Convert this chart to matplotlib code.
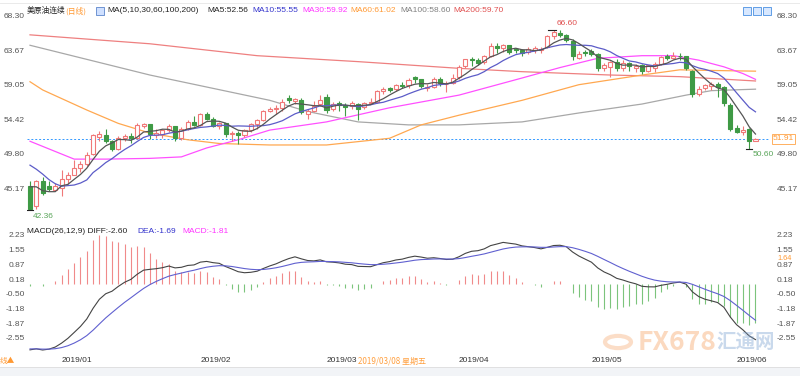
import numpy as np
import pandas as pd
import matplotlib
matplotlib.use("Agg")
import matplotlib.pyplot as plt
import matplotlib.transforms as mtr
from matplotlib.patches import Rectangle, Circle

plt.rcParams['font.family'] = ['Noto Sans CJK SC', 'DejaVu Sans']

# ---------------- data ----------------
holidays = ['2018-12-25', '2019-01-01', '2019-04-19']
dates = [d for d in pd.bdate_range('2018-12-24', '2019-06-06') if d.strftime('%Y-%m-%d') not in holidays]

opens = [45.6, 42.9, 46.2, 45.6, 45.1, 45.3, 46.5, 47.1, 48.0, 48.6,
         49.9, 52.2, 52.5, 51.6, 50.6, 52.1, 52.3, 52.0, 53.7, 53.9,
         52.4, 52.6, 53.1, 53.7, 52.0, 53.3, 54.2, 53.8, 55.2, 54.6,
         53.7, 54.0, 52.6, 52.7, 52.4, 53.1, 53.9, 54.4, 55.6, 55.9,
         56.1, 57.4, 57.0, 57.1, 55.3, 55.7, 56.6, 57.5, 55.9, 56.8,
         56.5, 56.3, 56.6, 56.2, 56.8, 56.9, 58.3, 58.7, 58.6, 59.1,
         59.1, 60.2, 59.9, 58.7, 58.9, 60.0, 59.3, 59.4, 60.2, 61.7,
         62.6, 62.5, 62.2, 63.1, 64.4, 64.1, 64.5, 64.0, 63.8, 63.6,
         63.8, 63.9, 64.3, 65.8, 66.2, 65.9, 65.1, 62.8, 63.6, 63.7,
         63.3, 61.5, 61.6, 62.3, 61.4, 62.1, 61.5, 61.8, 61.1, 61.5,
         62.0, 63.0, 62.8, 63.1, 63.0, 61.1, 58.0, 58.7, 59.0, 59.3,
         58.9, 56.5, 53.4, 52.9, 53.2, 51.7]
highs = [46.2, 46.4, 46.8, 46.2, 46.0, 47.8, 47.5, 49.1, 49.0, 50.2,
         52.6, 53.0, 53.2, 51.8, 52.3, 52.6, 52.7, 54.0, 54.1, 53.9,
         53.3, 53.3, 53.9, 53.7, 53.5, 54.4, 55.0, 55.4, 55.5, 54.9,
         54.2, 54.1, 53.0, 53.0, 53.3, 54.0, 54.6, 55.8, 56.2, 56.5,
         57.3, 57.8, 57.4, 57.4, 55.9, 57.0, 57.8, 57.9, 56.9, 57.0,
         56.7, 57.0, 56.7, 56.9, 57.4, 58.5, 58.9, 58.9, 59.3, 59.6,
         60.1, 60.4, 60.0, 59.3, 60.2, 60.2, 59.7, 60.6, 61.8, 62.7,
         62.9, 62.8, 63.2, 64.8, 64.8, 64.7, 64.6, 64.1, 64.0, 64.2,
         64.4, 64.2, 65.9, 66.60, 66.5, 66.0, 65.3, 63.7, 63.9, 64.0,
         63.5, 62.1, 62.4, 62.6, 62.5, 62.3, 62.0, 62.0, 61.9, 62.3,
         63.0, 63.3, 63.6, 63.4, 63.1, 61.2, 59.0, 59.3, 59.6, 59.6,
         59.0, 56.7, 53.8, 53.6, 53.4, 52.0]
lows = [42.36, 42.5, 44.4, 44.9, 44.9, 44.2, 45.8, 47.0, 47.5, 48.3,
        49.7, 51.7, 51.3, 50.3, 50.4, 51.6, 51.3, 51.9, 53.4, 51.9,
        52.0, 52.1, 52.9, 51.6, 51.8, 53.1, 53.6, 53.6, 54.4, 53.5,
        53.3, 52.2, 51.7, 51.2, 52.2, 52.9, 53.3, 54.3, 55.5, 55.3,
        55.6, 56.7, 56.6, 55.3, 54.6, 55.5, 56.4, 55.4, 55.6, 55.7,
        55.0, 56.0, 54.5, 56.0, 56.6, 56.7, 58.0, 58.2, 58.3, 58.7,
        58.8, 59.4, 58.7, 58.4, 58.7, 59.0, 58.2, 59.3, 60.0, 61.4,
        61.7, 61.8, 62.0, 62.9, 63.5, 63.6, 63.3, 63.4, 63.0, 63.3,
        63.4, 63.5, 64.1, 65.4, 65.6, 64.9, 62.5, 62.6, 63.0, 63.0,
        61.1, 61.0, 60.2, 61.1, 61.0, 61.0, 60.9, 60.6, 60.9, 60.9,
        61.9, 62.5, 62.6, 62.5, 61.2, 57.5, 57.7, 58.5, 58.5, 57.6,
        56.3, 53.0, 52.7, 52.4, 50.60, 51.6]
closes = [42.53, 46.2, 44.6, 45.2, 45.6, 46.5, 47.1, 48.0, 48.5, 49.8,
          52.4, 52.6, 51.6, 50.5, 52.1, 52.3, 52.1, 53.8, 53.9, 52.6,
          52.7, 53.1, 53.7, 52.0, 53.3, 54.2, 53.8, 55.3, 54.6, 53.7,
          54.0, 52.6, 52.7, 52.4, 53.1, 53.9, 54.4, 55.6, 55.9, 56.1,
          56.9, 57.2, 57.3, 55.5, 55.6, 56.3, 57.2, 55.8, 56.6, 56.5,
          56.2, 56.7, 56.0, 56.8, 56.9, 58.3, 58.6, 58.5, 59.1, 59.0,
          59.8, 59.9, 59.0, 58.9, 59.9, 59.4, 59.35, 60.1, 61.6, 62.6,
          62.5, 62.1, 63.1, 64.4, 64.1, 64.6, 63.6, 63.8, 63.4, 64.0,
          64.1, 64.0, 65.7, 66.3, 65.9, 65.2, 63.0, 63.3, 63.5, 63.3,
          61.5, 61.9, 62.2, 61.4, 62.1, 61.7, 61.7, 61.0, 61.8, 62.0,
          62.9, 62.8, 63.1, 63.0, 61.4, 57.9, 58.6, 59.1, 59.3, 58.9,
          56.8, 53.2, 52.9, 53.15, 51.68, 51.91]
# closes before the first visible day (needed for MA5 / MA10)
prior_closes = [51.65, 51.15, 52.58, 51.20, 49.88, 46.24, 47.20, 45.88, 45.59]

# long moving averages (candle index, value)
ma30_idx = [0, 7, 12, 19, 24, 28, 33, 38, 47, 57, 68, 78, 84, 90, 97, 102, 106, 110, 113, 115]
ma30_val = [51.6, 49.2, 49.2, 49.3, 49.5, 50.7, 51.8, 53.1, 54.2, 56.1, 57.8, 60.1, 61.5, 62.75, 63.1, 63.1, 62.5, 61.6, 60.7, 59.92]
ma60_idx = [0, 2, 9, 14, 19, 25, 30, 38, 47, 57, 62, 68, 78, 87, 97, 103, 109, 115]
ma60_val = [59.6, 58.5, 55.8, 54.0, 52.7, 51.8, 51.3, 51.1, 51.1, 52.0, 53.8, 55.1, 57.1, 59.2, 60.5, 61.2, 61.1, 61.02]
ma100_idx = [0, 19, 38, 44, 52, 60, 68, 78, 87, 97, 104, 108, 115]
ma100_val = [64.5, 60.5, 57.1, 55.6, 54.2, 53.8, 53.8, 54.2, 55.4, 56.6, 57.8, 58.4, 58.6]
ma200_idx = [0, 19, 36, 52, 68, 78, 92, 103, 115]
ma200_val = [65.9, 64.7, 63.1, 62.3, 61.4, 60.95, 60.5, 60.28, 59.7]

# MACD state at the close before the first visible day
ema12_start, ema26_start, dea_start = 49.5, 52.2, -3.0

left_ticks = [68.30, 63.67, 59.05, 54.42, 49.80, 45.17]
macd_ticks = [2.23, 1.55, 0.87, 0.18, -0.50, -1.18, -1.87, -2.55]
last_price = 51.91
cursor_macd = 1.64

# ---------------- derived ----------------
n = len(closes)
x = np.arange(n)
allc = pd.Series(prior_closes + closes)
ma5 = allc.rolling(5).mean().values[len(prior_closes):]
ma10 = allc.rolling(10).mean().values[len(prior_closes):]

e12, e26, dea = ema12_start, ema26_start, dea_start
difs, deas = [], []
for c in closes:
    e12 = e12 + 2.0 / 13 * (c - e12)
    e26 = e26 + 2.0 / 27 * (c - e26)
    d = e12 - e26
    dea = dea + 0.2 * (d - dea)
    difs.append(d)
    deas.append(dea)
difs = np.array(difs); deas = np.array(deas)
hist = 2 * (difs - deas)

# ---------------- layout ----------------
W, H = 800, 376
fig = plt.figure(figsize=(W / 100, H / 100), dpi=100)
fig.patch.set_facecolor('white')

def rect(l, t, r, b):
    return [l / W, 1 - b / H, (r - l) / W, (b - t) / H]

def px(xp, yp):
    return xp / W, 1 - yp / H

LAT = 'Liberation Sans'
ax1 = fig.add_axes(rect(27, 5, 770, 222))
ax2 = fig.add_axes(rect(27, 226, 770, 352))
for ax in (ax1, ax2):
    ax.set_xlim(-0.475, 117.3)
    ax.set_xticks([]); ax.set_yticks([])
    for s in ax.spines.values():
        s.set_visible(False)
ax1.set_ylim(40.75, 69.91)
ax2.set_ylim(-3.155, 2.69)

UP = '#f07878'
DN = '#3f9a45'

# candles
for i in range(n):
    o, h, l, c = opens[i], highs[i], lows[i], closes[i]
    col = UP if c >= o else DN
    ax1.vlines(i, l, h, color=col, lw=0.8, zorder=3)
    bot = min(o, c); ht = max(abs(c - o), 0.04)
    fc = 'white' if c >= o else col
    ax1.add_patch(Rectangle((i - 0.32, bot), 0.64, ht, facecolor=fc, edgecolor=col, lw=0.8, zorder=4))

# moving averages
ax1.plot(ma200_idx, ma200_val, color='#ee8080', lw=0.9, zorder=2)
ax1.plot(ma100_idx, ma100_val, color='#a8a8a8', lw=0.9, zorder=2)
ax1.plot(ma60_idx, ma60_val, color='#ffa850', lw=0.9, zorder=2)
ax1.plot(ma30_idx, ma30_val, color='#ff50ff', lw=0.9, zorder=2)
ax1.plot(x, ma10, color='#5c5cc8', lw=0.9, zorder=5)
ax1.plot(x, ma5, color='#555555', lw=0.9, zorder=5)

# last price line
ax1.axhline(last_price, color='#3399ff', lw=0.7, ls=(0, (2, 2)), zorder=1)

# extreme markers
imax = int(np.argmax(highs)); imin = int(np.argmin(lows))
ax1.plot([imax - 0.9, imax + 0.3], [highs[imax]] * 2, color='#222222', lw=0.8, zorder=6)
ax1.text(imax + 0.4, highs[imax] + 0.35, f'{highs[imax]:.2f}', color='#e05050', fontsize=6,
         ha='left', va='bottom', family=LAT)
ax1.plot([imin - 0.5, imin + 0.5], [lows[imin]] * 2, color='#222222', lw=0.8, zorder=6)
ax1.text(imin + 0.5, lows[imin] - 0.45, f'{lows[imin]:.2f}', color='#5aa55a', fontsize=6,
         ha='left', va='top', family=LAT)
jmin = n - 10 + int(np.argmin(lows[-10:]))
ax1.plot([jmin - 0.5, jmin + 0.5], [lows[jmin]] * 2, color='#222222', lw=0.8, zorder=6)
ax1.text(jmin + 0.6, lows[jmin] - 0.25, f'{lows[jmin]:.2f}', color='#5aa55a', fontsize=6,
         ha='left', va='top', family=LAT)

# y labels
tr1 = mtr.blended_transform_factory(ax1.transAxes, ax1.transData)
tr2 = mtr.blended_transform_factory(ax2.transAxes, ax2.transData)
for v in left_ticks:
    ax1.text(-0.003, v, f'{v:.2f}', transform=tr1, ha='right', va='center', fontsize=6, color='#555555', family=LAT)
    ax1.text(1.009, v, f'{v:.2f}', transform=tr1, ha='left', va='center', fontsize=6, color='#555555', family=LAT)
for v in macd_ticks:
    ax2.text(-0.003, v, f'{v:.2f}', transform=tr2, ha='right', va='center', fontsize=6, color='#555555', family=LAT)
    ax2.text(1.009, v, f'{v:.2f}', transform=tr2, ha='left', va='center', fontsize=6, color='#555555', family=LAT)
ax1.text(1.004, last_price, f'{last_price:.2f}', transform=tr1, ha='left', va='center', fontsize=6,
         color='#ff9933', family=LAT, bbox=dict(boxstyle='square,pad=0.15', fc='white', ec='#ffb060', lw=0.7))
# cursor value on the MACD scale (drawn between the 1.55 and 0.87 labels)
fig.text(*px(777, 258), f'{cursor_macd:.2f}', ha='left', va='center', fontsize=5.3, color='#ff9933', family=LAT)

# MACD panel
for i in range(n):
    ax2.vlines(i, 0, hist[i], color='#f08a8a' if hist[i] >= 0 else '#7cc47c', lw=0.8)
ax2.plot(x, difs, color='#444444', lw=0.8)
ax2.plot(x, deas, color='#6060d0', lw=0.8)

# date axis
month_first = {}
for i, d in enumerate(dates):
    key = d.strftime('%Y/%m')
    if key not in month_first:
        month_first[key] = i
trx = mtr.blended_transform_factory(ax2.transData, fig.transFigure)
for key, i in month_first.items():
    if key.startswith('2018'):
        continue
    ax2.text(i, 1 - 361 / H, key, transform=trx, ha='left', va='center', fontsize=6, color='#333333', family=LAT)
fig.text(*px(358, 361), '2019/03/08 星期五', fontsize=5.8, color='#ffa040', ha='left', va='center')
fig.text(*px(0, 361), '线▲', fontsize=5.5, color='#ff9933', ha='left', va='center')
fig.add_artist(Rectangle((0, 0), 1, 9 / H, transform=fig.transFigure, facecolor='#f2f4f7', edgecolor='none'))
fig.add_artist(plt.Line2D([0, 1], [1 - 367 / H] * 2, transform=fig.transFigure, color='#dddddd', lw=0.6))
fig.add_artist(plt.Line2D([0, 1], [1 - 3 / H] * 2, transform=fig.transFigure, color='#e6e6e6', lw=0.6))

# header texts
hy = 11
fig.text(*px(27, hy), '美原油连续', fontsize=5.6, color='#222222', va='center')
fig.text(*px(65, hy), '(日线)', fontsize=5.6, color='#ff9933', va='center')
fig.add_artist(Rectangle(px(96, 15), 8 / W, 8 / H, transform=fig.transFigure, facecolor='#cfe0ff',
                         edgecolor='#4070c0', lw=0.5))
items = [(107, 'MA(5,10,30,60,100,200)', '#222222'), (207, 'MA5:52.56', '#222222'),
         (252, 'MA10:55.55', '#3333cc'), (302, 'MA30:59.92', '#ff33ff'),
         (350, 'MA60:61.02', '#ff9933'), (400, 'MA100:58.60', '#808080'), (453, 'MA200:59.70', '#e05050')]
for xp, t, col in items:
    fig.text(*px(xp, hy), t, fontsize=6, color=col, va='center', family=LAT)
for k in range(3):
    fig.add_artist(Rectangle(px(743 + k * 10, 15), 8 / W, 8 / H, transform=fig.transFigure,
                             facecolor='#d8e8ff', edgecolor='#4a90e2', lw=0.6))
my = 231
fig.text(*px(27, my), 'MACD(26,12,9) DIFF:-2.60', fontsize=6, color='#222222', va='center', family=LAT)
fig.text(*px(137, my), 'DEA:-1.69', fontsize=6, color='#3333cc', va='center', family=LAT)
fig.text(*px(182, my), 'MACD:-1.81', fontsize=6, color='#ff33ff', va='center', family=LAT)

# watermark
fig.add_artist(Circle(px(618, 342), 13 / W, transform=fig.transFigure, facecolor='none',
                      edgecolor='#f5a060', lw=3, alpha=0.35))
fig.text(*px(638, 343), 'FX678', fontsize=19, color='#f5a060', alpha=0.4, va='center', ha='left', fontweight='bold')
fig.text(*px(716, 343), '汇通网', fontsize=14, color='#7aa0d0', alpha=0.4, va='center', ha='left', fontweight='bold')

fig.savefig('out.png', dpi=100, facecolor='white')
